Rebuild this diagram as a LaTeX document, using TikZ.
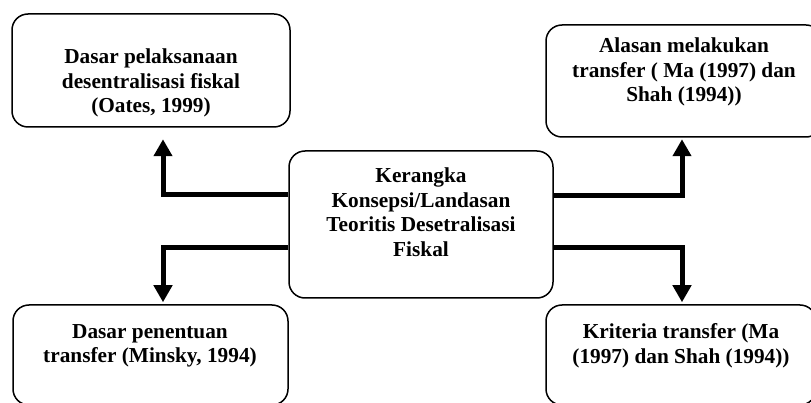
\documentclass[tikz,border=0pt]{standalone}
\usepackage{fontspec}
\setmainfont{Liberation Serif}
\usetikzlibrary{arrows.meta}
\begin{document}
\begin{tikzpicture}[x=1pt,y=-1pt,
  box/.style={draw, line width=1.5pt, rounded corners=16pt, inner sep=0pt},
  txt/.style={font=\bfseries\fontsize{21.3}{24.5}\selectfont, align=center, inner sep=0pt},
  conn/.style={line width=5pt, -{Triangle[width=18pt,length=17pt]}}]
\useasboundingbox (0,0) rectangle (811,403);
\clip (0,0) rectangle (811,403);
% boxes
\node[box, minimum width=278pt, minimum height=113pt] (tl) at (151,70.5) {};
\node[box, minimum width=276pt, minimum height=112pt] (tr) at (684,81) {};
\node[box, minimum width=275pt, minimum height=100pt] (bl) at (150.5,355) {};
\node[box, minimum width=270pt, minimum height=100pt] (br) at (681,355) {};
\node[box, minimum width=264pt, minimum height=147pt] (c) at (421,224.5) {};
% texts
\node[txt] (tlt) at (151,83) {Dasar pelaksanaan\\desentralisasi fiskal\\(Oates, 1999)};
\node[txt] (trt) at (684,72) {Alasan melakukan\\transfer ( Ma (1997) dan\\Shah (1994))};
\node[txt] (blt) at (150,346) {Dasar penentuan\\transfer (Minsky, 1994)};
\node[txt] (brt) at (681,346) {Kriteria transfer (Ma\\(1997) dan Shah (1994))};
\node[txt] (ct) at (421,212) {Kerangka\\Konsepsi/Landasan\\Teoritis Desetralisasi\\Fiskal};
% connectors
\draw[conn] ([yshift=29.5pt]c.west) -| ([xshift=12pt,yshift=-11.5pt]tl.south);
\draw[conn] ([yshift=-23.5pt]c.west) -| ([xshift=12.5pt,yshift=2pt]bl.north);
\draw[conn] ([yshift=28.5pt]c.east) -| ([xshift=-2pt,yshift=-1.5pt]tr.south);
\draw[conn] ([yshift=-23.5pt]c.east) -| ([xshift=1pt,yshift=2pt]br.north);
\end{tikzpicture}
\end{document}
